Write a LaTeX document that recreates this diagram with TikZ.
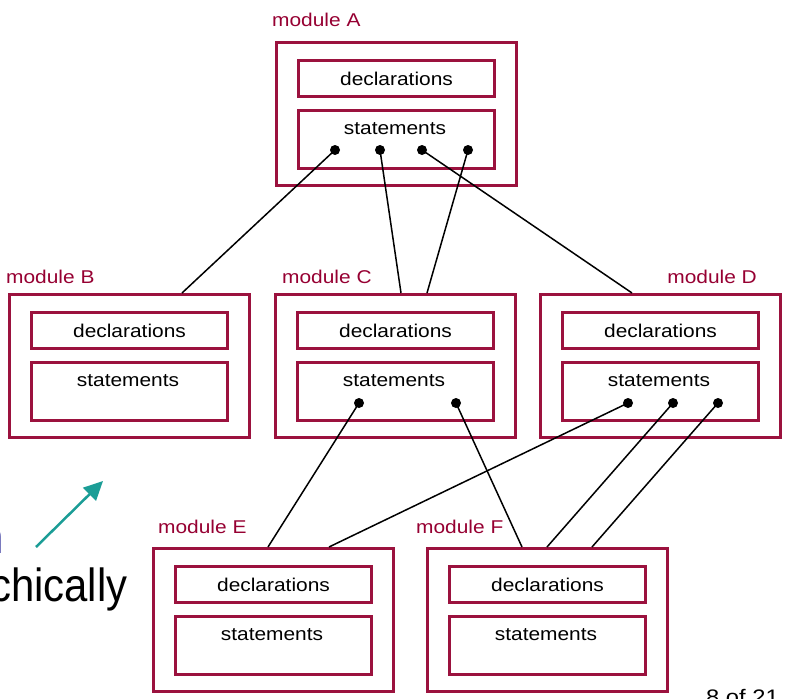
\documentclass[tikz,border=0pt]{standalone}
\usepackage{graphicx}
\usepackage{fontspec}
\setmainfont{Liberation Sans}
\usetikzlibrary{arrows.meta}
\definecolor{modred}{RGB}{155,18,62}
\definecolor{modtxt}{RGB}{150,0,50}
\definecolor{tealarrow}{RGB}{27,157,150}
\definecolor{navytxt}{RGB}{20,20,140}
\newcommand{\wtxt}[1]{\scalebox{1.13}[1]{#1}}
\newcommand{\ntxt}[1]{\scalebox{0.9}[1]{#1}}
\tikzset{
  outerbox/.style={draw=modred, line width=3pt, minimum width=240pt, minimum height=143pt, anchor=north west, inner sep=0pt},
  declbox/.style={draw=modred, line width=3pt, minimum width=196pt, minimum height=36pt, anchor=north west, inner sep=0pt, font=\fontsize{18.5}{22}\selectfont},
  stmtbox/.style={draw=modred, line width=3pt, minimum width=196pt, minimum height=58pt, anchor=north west, inner sep=0pt},
  txt/.style={inner sep=0pt, font=\fontsize{18.5}{22}\selectfont},
  lbl/.style={inner sep=0pt, text=modtxt, font=\fontsize{18.5}{22}\selectfont},
  dot/.style={circle, fill=black, inner sep=0pt, minimum size=10pt},
  conn/.style={draw=black, line width=1.5pt},
  bigtxt/.style={inner sep=0pt, font=\fontsize{46.5}{50}\selectfont},
  module/.pic={
    \node[outerbox] (-o) at (0,0) {};
    \node[declbox] (-d) at (22,18) {\wtxt{declarations}};
    \node[stmtbox] (-s) at (22,68) {};
    \node[txt, anchor=base] (-t) at (120,93) {\wtxt{statements}};
  }
}
\begin{document}
\begin{tikzpicture}[x=1pt, y=-1pt]
\useasboundingbox (0,0) rectangle (794,698);
\clip (0,0) rectangle (794,698);

% modules
\pic (A) at (275,41) {module};
\pic (B) at (8,293) {module};
\pic (C) at (274,293) {module};
\pic (D) at (539,293) {module};
\pic (E) at (152,547) {module};
\pic (F) at (426,547) {module};

% module labels
\node[lbl, anchor=base west] (Alab) at (272,27) {\wtxt{module A}};
\node[lbl, anchor=base west] (Blab) at (6,283) {\wtxt{module B}};
\node[lbl, anchor=base west] (Clab) at (282,283) {\wtxt{module C}};
\node[lbl, anchor=base east] (Dlab) at (757,283) {\wtxt{module D}};
\node[lbl, anchor=base west] (Elab) at (158,533) {\wtxt{module E}};
\node[lbl, anchor=base west] (Flab) at (416,533) {\wtxt{module F}};

% dots
\node[dot] (a1) at (335,150) {};
\node[dot] (a2) at (380,150) {};
\node[dot] (a3) at (422,150) {};
\node[dot] (a4) at (468,150) {};
\node[dot] (c1) at (359,403) {};
\node[dot] (c2) at (456,403) {};
\node[dot] (d1) at (628,403) {};
\node[dot] (d2) at (673,403) {};
\node[dot] (d3) at (718,403) {};

% connector ends on box tops
\coordinate (bt1) at (182,293);
\coordinate (ct1) at (401,293);
\coordinate (ct2) at (427,293);
\coordinate (dt1) at (632,293);
\coordinate (et1) at (268,547);
\coordinate (et2) at (329,547);
\coordinate (ft1) at (522,547);
\coordinate (ft2) at (547,547);
\coordinate (ft3) at (592,547);

\draw[conn] (a1.center) -- (bt1);
\draw[conn] (a2.center) -- (ct1);
\draw[conn] (a4.center) -- (ct2);
\draw[conn] (a3.center) -- (dt1);
\draw[conn] (c1.center) -- (et1);
\draw[conn] (c2.center) -- (ft1);
\draw[conn] (d1.center) -- (et2);
\draw[conn] (d2.center) -- (ft2);
\draw[conn] (d3.center) -- (ft3);

% teal arrow
\coordinate (arS) at (36,547);
\coordinate (arE) at (103,481);
\draw[tealarrow, line width=2.5pt, -{Triangle[length=19pt,width=18pt]}] (arS) -- (arE);

% partial slide text
\node[bigtxt, text=navytxt, anchor=base west] (prevline) at (-20,553) {\ntxt{n}};
\node[bigtxt, anchor=base west] (hier) at (-10,601) {\ntxt{chically}};
\node[txt, anchor=base west, font=\fontsize{21}{24}\selectfont] (pageno) at (706,704) {\wtxt{8 of 21}};
\end{tikzpicture}
\end{document}
